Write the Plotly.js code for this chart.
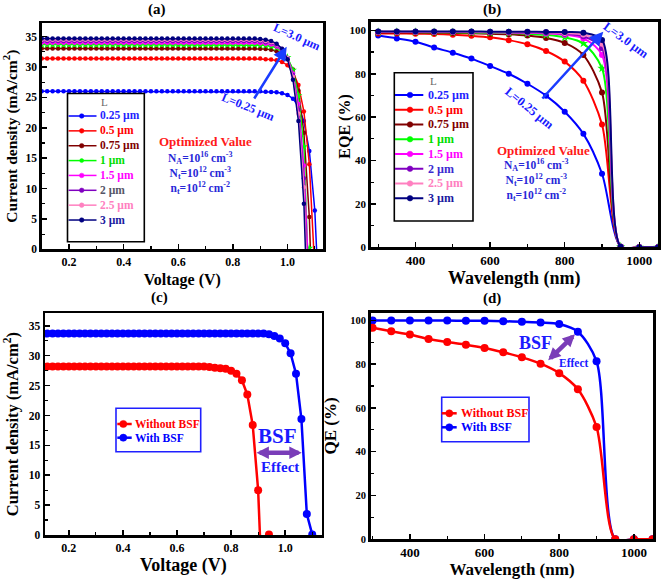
<!DOCTYPE html>
<html><head><meta charset="utf-8">
<script src="https://cdn.plot.ly/plotly-3.0.1.min.js"></script>
<style>html,body{margin:0;padding:0;background:#fff}</style>
</head><body><div id="chart" style="width:661px;height:579px"></div>
<script>
// ---------------- DATA ----------------
const L_labels = ['0.25 µm','0.5 µm','0.75 µm','1 µm','1.5 µm','2 µm','2.5 µm','3 µm'];

// (a) J-V for diffusion lengths
const voltageA = [0.10,0.12,0.14,0.16,0.18,0.20,0.22,0.24,0.26,0.28,
0.30,0.32,0.34,0.36,0.38,0.40,0.42,0.44,0.46,0.48,
0.50,0.52,0.54,0.56,0.58,0.60,0.62,0.64,0.66,0.68,
0.70,0.72,0.74,0.76,0.78,0.80,0.82,0.84,0.86,0.88,
0.90,0.92,0.94,0.96,0.98,1.00,1.02,1.04,1.06,1.08,1.10,1.12];
const J_025 = [26.0,26.0,26.0,26.0,26.0,26.0,26.0,26.0,26.0,26.0,
26.0,26.0,26.0,26.0,26.0,26.0,26.0,26.0,26.0,26.0,
26.0,26.0,26.0,26.0,26.0,26.0,26.0,26.0,26.0,26.0,
26.0,26.0,26.0,26.0,26.0,26.0,26.0,26.0,26.0,26.0,
26.0,25.95,25.9,25.85,25.7,25.4,24.8,23.5,21.1,16.2,6.4,-13.3];
const J_05 = [31.4,31.4,31.4,31.4,31.4,31.4,31.4,31.4,31.4,31.4,
31.4,31.4,31.4,31.4,31.4,31.4,31.4,31.4,31.4,31.4,
31.4,31.4,31.4,31.4,31.4,31.4,31.4,31.4,31.4,31.4,
31.4,31.4,31.4,31.4,31.4,31.4,31.4,31.4,31.4,31.4,
31.4,31.3,31.25,31.1,30.85,30.3,29.2,27.05,22.7,14.0,-3.4,null];
const J_075 = [33.05,33.05,33.05,33.05,33.05,33.05,33.05,33.05,33.05,33.05,
33.05,33.05,33.05,33.05,33.05,33.05,33.05,33.05,33.05,33.05,
33.05,33.05,33.05,33.05,33.05,33.05,33.05,33.05,33.05,33.05,
33.05,33.05,33.05,33.05,33.05,33.05,33.05,33.05,33.05,33.05,
33.0,32.95,32.85,32.6,32.2,31.3,29.6,26.1,19.2,5.3,-22.6,null];
const J_1 = [33.7,33.7,33.7,33.7,33.7,33.7,33.7,33.7,33.7,33.7,
33.7,33.7,33.7,33.7,33.7,33.7,33.7,33.7,33.7,33.7,
33.7,33.7,33.7,33.7,33.7,33.7,33.7,33.7,33.7,33.7,
33.7,33.7,33.7,33.7,33.7,33.7,33.7,33.7,33.7,33.7,
33.6,33.55,33.4,33.2,32.65,31.6,29.5,25.3,16.9,0.2,-33.7,null];
const J_15 = [34.0,34.0,34.0,34.0,34.0,34.0,34.0,34.0,34.0,34.0,
34.0,34.0,34.0,34.0,34.0,34.0,34.0,34.0,34.0,34.0,
34.0,34.0,34.0,34.0,34.0,34.0,34.0,34.0,34.0,34.0,
34.0,34.0,34.0,34.0,34.0,34.0,34.0,34.0,34.0,34.0,
33.9,33.85,33.7,33.4,32.7,31.5,28.95,23.9,13.8,-6.4,null,null];
const J_2 = [34.3,34.3,34.3,34.3,34.3,34.3,34.3,34.3,34.3,34.3,
34.3,34.3,34.3,34.3,34.3,34.3,34.3,34.3,34.3,34.3,
34.3,34.3,34.3,34.3,34.3,34.3,34.3,34.3,34.3,34.3,
34.3,34.3,34.3,34.3,34.3,34.3,34.3,34.3,34.3,34.3,
34.2,34.1,33.95,33.6,32.9,31.5,28.7,23.0,11.7,-10.8,null,null];
const J_25 = [34.5,34.5,34.5,34.5,34.5,34.5,34.5,34.5,34.5,34.5,
34.5,34.5,34.5,34.5,34.5,34.5,34.5,34.5,34.5,34.5,
34.5,34.5,34.5,34.5,34.5,34.5,34.5,34.5,34.5,34.5,
34.5,34.5,34.5,34.5,34.5,34.5,34.5,34.5,34.5,34.5,
34.4,34.3,34.1,33.7,33.0,31.5,28.4,22.3,10.2,-14.1,null,null];
const J_3 = [34.7,34.7,34.7,34.7,34.7,34.7,34.7,34.7,34.7,34.7,
34.7,34.7,34.7,34.7,34.7,34.7,34.7,34.7,34.7,34.7,
34.7,34.7,34.7,34.7,34.7,34.7,34.7,34.7,34.7,34.7,
34.7,34.7,34.7,34.7,34.7,34.7,34.7,34.7,34.7,34.7,
34.6,34.5,34.3,33.85,33.0,31.3,27.9,21.1,7.5,-19.6,null,null];

// (b) EQE for diffusion lengths
const wavelengthB = [300,350,400,450,500,550,600,650,700,750,800,850,900,950,1000,1050];
const EQE_025 = [97.6,96.3,94.8,92.1,89.7,87.0,83.6,80.0,75.4,69.9,62.5,52.3,33.9,0.3,0,0];
const EQE_05  = [98.6,98.6,98.5,98.3,98.0,97.5,96.8,95.5,93.6,90.5,85.6,76.8,56.6,0.3,0,0];
const EQE_075 = [99.0,99.0,99.0,98.9,98.8,98.7,98.5,98.2,97.6,96.5,94.2,88.6,71.4,0.3,0,0];
const EQE_1   = [99.2,99.2,99.2,99.1,99.1,99.0,98.9,98.8,98.5,97.9,96.8,94.0,82.5,0.3,0,0];
const EQE_15  = [99.3,99.3,99.3,99.3,99.2,99.2,99.1,99.0,98.9,98.6,98.0,96.3,88.6,0.3,0,0];
const EQE_2   = [99.4,99.4,99.4,99.3,99.3,99.3,99.2,99.2,99.1,98.9,98.5,97.3,91.8,0.3,0,0];
const EQE_25  = [99.4,99.4,99.4,99.4,99.4,99.3,99.3,99.3,99.2,99.1,98.8,98.1,93.8,0.3,0,0];
const EQE_3   = [99.5,99.5,99.5,99.5,99.5,99.5,99.4,99.4,99.4,99.3,99.2,98.9,95.6,0.3,0,0];

// (c) J-V with / without BSF
const BSF_labels = ['Without BSF','With BSF'];
const voltageC = [0.10,0.12,0.14,0.16,0.18,0.20,0.22,0.24,0.26,0.28,
0.30,0.32,0.34,0.36,0.38,0.40,0.42,0.44,0.46,0.48,
0.50,0.52,0.54,0.56,0.58,0.60,0.62,0.64,0.66,0.68,
0.70,0.72,0.74,0.76,0.78,0.80,0.82,0.84,0.86,0.88,
0.90,0.92,0.94,0.96,0.98,1.00,1.02,1.04,1.06,1.08,1.10];
const J_withoutBSF = [28.2,28.2,28.2,28.2,28.2,28.2,28.2,28.2,28.2,28.2,
28.2,28.2,28.2,28.2,28.2,28.2,28.2,28.2,28.2,28.2,
28.2,28.2,28.2,28.2,28.2,28.2,28.2,28.2,28.2,28.2,
28.2,28.1,28.0,27.9,27.8,27.5,27.0,25.9,23.5,18.4,
7.5,-15,0.1,null,null,null,null,null,null,null,null];
const J_withBSF = [33.7,33.7,33.7,33.7,33.7,33.7,33.7,33.7,33.7,33.7,
33.7,33.7,33.7,33.7,33.7,33.7,33.7,33.7,33.7,33.7,
33.7,33.7,33.7,33.7,33.7,33.7,33.7,33.7,33.7,33.7,
33.7,33.7,33.7,33.7,33.7,33.7,33.7,33.7,33.7,33.7,
33.7,33.7,33.6,33.3,32.9,32.1,30.4,27.0,19.4,3.5,0.1];

// (d) QE with / without BSF
const wavelengthD = [300,350,400,450,500,550,600,650,700,750,800,850,900,950,1000,1050];
const QE_withoutBSF = [96.6,95.0,93.5,91.5,90.1,88.9,87.4,85.4,83.1,80.2,75.9,68.5,51.3,0,0,0];
const QE_withBSF    = [99.9,99.9,99.9,99.9,99.9,99.8,99.8,99.6,99.4,99.0,98.3,94.8,81.3,0,0,0];

// ---------------- STYLE ----------------
const FONT = '"Liberation Serif", "Times New Roman", serif';
const lineColors = ['#0000ff','#ff0000','#800000','#00ff00','#ff00ff','#8000c0','#ff80c0','#000080'];
const legTextA = ['#1f1fff','#ff0000','#800000','#00dd00','#ff00ff','#555566','#ff80c0','#1a1aa0'];
const legTextB = ['#1f1fff','#ff0000','#800000','#00dd00','#ff00ff','#3b2bd0','#ff80c0','#1a1aa0'];
const symbols = ['circle','circle','circle','star','circle','circle','circle','circle'];
const bsfColors = ['#ff0000','#0000ff'];
const W = 661, H = 579;
const px = v => v / W, py = v => 1 - v / H;

const seriesA = [J_025,J_05,J_075,J_1,J_15,J_2,J_25,J_3];
const seriesB = [EQE_025,EQE_05,EQE_075,EQE_1,EQE_15,EQE_2,EQE_25,EQE_3];

const traces = [];
seriesA.forEach((ys,i)=>traces.push({type:'scatter',mode:'lines+markers',x:voltageA,y:ys,xaxis:'x',yaxis:'y',
  name:L_labels[i],showlegend:false,line:{color:lineColors[i],width:1.5},
  marker:{color:lineColors[i],size:symbols[i]==='star'?6:4.5,symbol:symbols[i]}}));
seriesB.forEach((ys,i)=>traces.push({type:'scatter',mode:'lines+markers',x:wavelengthB,y:ys,xaxis:'x2',yaxis:'y2',
  name:L_labels[i],showlegend:false,line:{color:lineColors[i],width:2,shape:'spline',smoothing:0.8},
  marker:{color:lineColors[i],size:symbols[i]==='star'?7:6,symbol:symbols[i]}}));
[J_withoutBSF,J_withBSF].forEach((ys,i)=>traces.push({type:'scatter',mode:'lines+markers',x:voltageC,y:ys,xaxis:'x3',yaxis:'y3',
  name:BSF_labels[i],showlegend:false,line:{color:bsfColors[i],width:2.5},marker:{color:bsfColors[i],size:8}}));
[QE_withBSF,QE_withoutBSF].forEach((ys,k)=>{const i=1-k;traces.push({type:'scatter',mode:'lines+markers',x:wavelengthD,y:ys,xaxis:'x4',yaxis:'y4',
  name:BSF_labels[i],showlegend:false,line:{color:bsfColors[i],width:2.5,shape:'spline',smoothing:0.8},marker:{color:bsfColors[i],size:8}});});

function ax(o){
  return Object.assign({showline:true,linewidth:2.5,linecolor:'#000',mirror:true,ticks:'inside',ticklen:5,tickwidth:1.5,
    tickcolor:'#000',showgrid:false,zeroline:false,fixedrange:true,
    tickfont:{family:FONT,size:12,color:'#000',weight:'bold'}},o);
}
function ttl(t,size,standoff){const o={text:t,font:{family:FONT,size:size,color:'#000',weight:'bold'}}; if(standoff!==undefined) o.standoff=standoff; return o;}
const mn = d => ({dtick:d,ticks:'inside',ticklen:3,tickwidth:1.2,tickcolor:'#000'});

const layout = {
  width:W,height:H,margin:{l:0,r:0,t:0,b:0},paper_bgcolor:'#fff',plot_bgcolor:'#fff',showlegend:false,
  xaxis: ax({domain:[px(41.7),px(323)],anchor:'y',range:[0.1,1.13],tick0:0,dtick:0.2,tickformat:'.1f',
    minor:mn(0.1),title:ttl('Voltage (V)',16,6)}),
  yaxis: ax({domain:[py(249.3),py(23)],anchor:'x',range:[0,37.25],tick0:0,dtick:5,
    minor:mn(2.5),tickfont:{family:FONT,size:11.5,color:'#000',weight:'bold'},
    title:ttl('Current density (mA/cm<sup>2</sup>)',15.5,6)}),
  xaxis2: ax({domain:[px(370.7),px(658)],anchor:'y2',range:[280,1050],tick0:0,dtick:200,
    minor:mn(100),tickfont:{family:FONT,size:13,color:'#000',weight:'bold'},
    title:ttl('Wavelength (nm)',18,4)}),
  yaxis2: ax({domain:[py(247.3),py(21.7)],anchor:'x2',range:[0,104],tick0:0,dtick:20,
    minor:mn(10),tickfont:{family:FONT,size:11,color:'#000',weight:'bold'}}),
  xaxis3: ax({domain:[px(45),px(321.7)],anchor:'y3',range:[0.112,1.135],tick0:0,dtick:0.2,tickformat:'.1f',
    minor:mn(0.1),title:ttl('Voltage (V)',18,5)}),
  yaxis3: ax({domain:[py(535),py(313.3)],anchor:'x3',range:[0,37.1],tick0:0,dtick:5,
    minor:mn(2.5),tickfont:{family:FONT,size:11.5,color:'#000',weight:'bold'},
    title:ttl('Current density (mA/cm<sup>2</sup>)',16.5,6)}),
  xaxis4: ax({domain:[px(370.7),px(653.3)],anchor:'y4',range:[295,1052],tick0:0,dtick:200,
    minor:mn(100),tickfont:{family:FONT,size:13,color:'#000',weight:'bold'},
    title:ttl('Wavelength (nm)',17,4)}),
  yaxis4: ax({domain:[py(539.3),py(312.7)],anchor:'x4',range:[0,103.5],tick0:0,dtick:20,
    minor:mn(10),tickfont:{family:FONT,size:10.5,color:'#000',weight:'bold'},
    title:ttl('QE (%)',17,10)}),
  shapes:[],annotations:[]
};

const A = layout.annotations, S = layout.shapes;
function txt(x,y,t,size,color,opts){A.push(Object.assign({xref:'paper',yref:'paper',x:px(x),y:py(y),text:t,showarrow:false,
  font:{family:FONT,size:size,color:color,weight:'bold'},xanchor:'center',yanchor:'middle'},opts||{}));}
function arrow(xh,yh,xt,yt,color,width,size,both){A.push({xref:'paper',yref:'paper',x:px(xh),y:py(yh),ax:xt-xh,ay:yt-yh,text:'',
  showarrow:true,arrowhead:2,arrowsize:size,arrowwidth:width,arrowcolor:color,arrowside:both?'end+start':'end',standoff:0,startstandoff:0});}

// (b) y-axis title
txt(345,126.7,'EQE (%)',16,'#000',{textangle:-90});

// custom legends (box, sample line, marker, text)
function legend(box,borderColor,titleXY,items){
  S.push({type:'rect',xref:'paper',yref:'paper',x0:px(box[0]),x1:px(box[1]),y0:py(box[2]),y1:py(box[3]),line:{color:borderColor,width:1.6},fillcolor:'rgba(0,0,0,0)',layer:'above'});
  if(titleXY) txt(titleXY[0],titleXY[1],'L',11,'#666',{font:{family:FONT,size:11,color:'#666'}});
  items.forEach(it=>{
    S.push({type:'line',xref:'paper',yref:'paper',x0:px(it.l0),x1:px(it.l1),y0:py(it.y),y1:py(it.y),line:{color:it.c,width:it.lw},layer:'above'});
    const r=it.r;
    S.push({type:'circle',xref:'paper',yref:'paper',x0:px(it.m-r),x1:px(it.m+r),y0:py(it.y+r),y1:py(it.y-r),fillcolor:it.c,line:{color:it.c,width:0.5},layer:'above'});
    txt(it.tx,it.y,it.t,it.fs,it.tc,{xanchor:'left'});
  });
}
legend([67.5,144.3,93.5,241.7],'#000',[104,102],L_labels.map((t,i)=>({y:116+i*14.86,l0:68.5,l1:96.5,m:81.7,r:symbols[i]==='star'?2:2.3,c:lineColors[i],lw:1.5,tx:98.3,t:t,fs:11.5,tc:legTextA[i]})));
legend([394.3,473,72.7,221],'#000',[433.3,80.7],L_labels.map((t,i)=>({y:95+i*14.75,l0:395,l1:423.3,m:410,r:2.8,c:lineColors[i],lw:2,tx:426,t:t,fs:12,tc:legTextB[i]})));
legend([116,200.7,408.3,451.7],'#2020ff',null,BSF_labels.map((t,i)=>({y:[424,437.7][i],l0:117.3,l1:131.7,m:123.3,r:3.6,c:bsfColors[i],lw:2.5,tx:133.3,t:t,fs:11.5,tc:bsfColors[i]})));
legend([441.7,529,397.3,441.7],'#2020ff',null,BSF_labels.map((t,i)=>({y:[413.3,427.3][i],l0:441.7,l1:456.7,m:449.3,r:3.6,c:bsfColors[i],lw:2.5,tx:459.3,t:t,fs:12,tc:bsfColors[i]})));

// panel labels
txt(157,9,'(a)',15,'#000'); txt(492.5,9,'(b)',15,'#000'); txt(159.5,297.5,'(c)',15,'#000'); txt(492,298,'(d)',15,'#000');

// (a) annotations
const BL='#1a1aff', NB='#2828d8', RD='#ff1a1a';
const params = 'N<sub>A</sub>=10<sup>16</sup> cm<sup>-3</sup><br>N<sub>t</sub>=10<sup>12</sup> cm<sup>-3</sup><br>n<sub>t</sub>=10<sup>12</sup> cm<sup>-2</sup>';
txt(205.5,141,'Optimized Value',13,RD);
txt(201,173,params,11.5,NB);
arrow(286.7,46.7,253.3,100,'#1a3cff',2.5,1.1,false);
txt(297.3,36.7,'L=3.0 µm',12,BL,{textangle:24});
txt(248.3,107.3,'L=0.25 µm',12,BL,{textangle:22});
// (b) annotations
txt(543,150,'Optimized Value',13,RD);
txt(536,179.5,params,11.5,NB);
arrow(603.3,31.7,541,100,'#1a3cff',2.5,1.1,false);
txt(625.7,40,'L=3.0 µm',12.5,BL,{textangle:36});
txt(529,108.3,'L=0.25 µm',12.5,BL,{textangle:39});
// (c) annotations
txt(277.5,436,'BSF',21,'#1a1aff');
txt(280.3,467.5,'Effect',15,'#1a1aff');
arrow(301.7,452.7,255,452.7,'#7a3db8',4.5,0.55,true);
// (d) annotations
txt(535.8,343.3,'BSF',18,'#1a1aff');
txt(573.7,363.3,'Effect',11.5,'#1a1aff');
arrow(575,334.3,546.7,361.7,'#7a3db8',4.5,0.55,true);

Plotly.newPlot('chart',traces,layout,{displayModeBar:false,staticPlot:true});
</script></body></html>
